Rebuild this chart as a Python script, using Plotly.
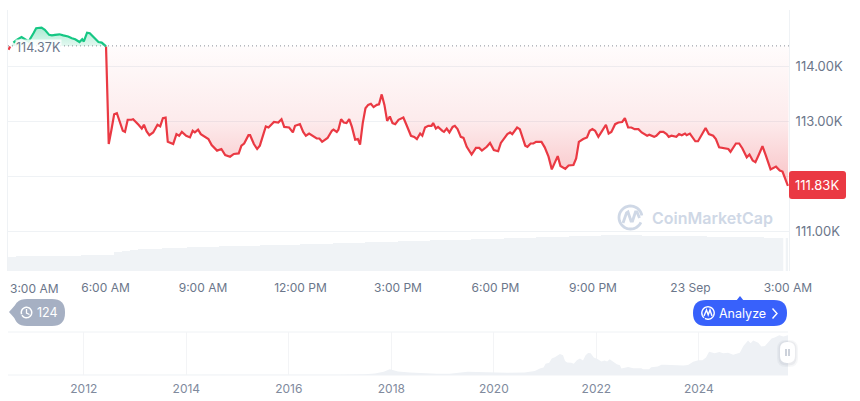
import math
import plotly.graph_objects as go

W, H = 860, 401
FONT = "Inter"
RED, GREEN = "#ea3943", "#16c784"
GRID = "#eff2f5"
TEXT = "#6b768a"

open_price = 114.37
last_price = 111.83

# minutes after 3:00 AM, price in thousands of USD
above_minutes = [1, 4, 10, 16, 25, 38, 47, 52, 62, 68, 76, 81, 87, 95, 102, 111, 118, 124, 132, 137, 140, 146, 151, 161, 167, 173, 181]
above_prices = [114.30, 114.36, 114.43, 114.48, 114.53, 114.45, 114.60, 114.69, 114.70, 114.66, 114.57, 114.56, 114.57, 114.58, 114.56, 114.54, 114.51, 114.49, 114.44, 114.49, 114.45, 114.61, 114.60, 114.49, 114.44, 114.43, 114.36]

below_minutes = [181, 183, 186, 191, 196, 201, 208, 212, 216, 221, 228, 231, 241, 247, 251, 256, 261, 268, 276, 281, 286, 291, 295, 305, 311, 316, 321, 329, 336, 341, 345, 351, 356, 370, 376, 386, 394, 401, 410, 417, 426, 431, 436, 444, 447, 454, 460, 465, 476, 481, 491, 499, 505, 510, 519, 526, 530, 539,
                 545, 550, 556, 564, 570, 575, 580, 590, 598, 601, 607, 610, 615, 620, 625, 630, 635, 641, 646, 650, 655, 660, 665, 670, 675, 681, 685, 690, 695, 700, 705, 710, 715, 721, 730, 736, 744, 750, 755, 761, 765, 770, 776, 782, 785, 790, 794, 802, 805, 810, 815, 821, 825, 830, 836, 841, 847, 856, 864, 870, 875, 884, 890, 897, 902, 905, 910, 922, 927, 931, 940, 945, 955, 959, 965, 970, 975, 985, 991, 998, 1004, 1015, 1020, 1029, 1035,
                 1044, 1049, 1054, 1062, 1069, 1074, 1079, 1084, 1090, 1097, 1104, 1109, 1114, 1121, 1127, 1134, 1139, 1145, 1151, 1157, 1164, 1170, 1176, 1180, 1184, 1193, 1197, 1204, 1210, 1216, 1220, 1225, 1234, 1239, 1244, 1250, 1253, 1259, 1269, 1274, 1288, 1294, 1302, 1307, 1313, 1321, 1330, 1334, 1344, 1350, 1356, 1364, 1369, 1375, 1380, 1386, 1393, 1399, 1408, 1418, 1425, 1430, 1440]
below_prices = [114.36, 113.39, 112.59, 112.85, 113.13, 113.15, 112.94, 112.83, 112.81, 113.03, 113.03, 113.04, 112.94, 112.87, 112.94, 112.82, 112.75, 112.80, 112.94, 112.91, 113.06, 113.07, 112.63, 112.59, 112.77, 112.74, 112.81, 112.74, 112.71, 112.83, 112.80, 112.85, 112.77, 112.68, 112.57, 112.47, 112.50, 112.39, 112.36, 112.41, 112.42, 112.56, 112.60, 112.75, 112.75, 112.59, 112.50, 112.56, 112.91, 112.89, 112.99, 112.98, 113.04, 112.90, 112.89, 112.80, 112.92, 112.95,
                112.81, 112.74, 112.78, 112.72, 112.69, 112.69, 112.63, 112.70, 112.83, 112.85, 112.81, 112.85, 113.04, 112.98, 112.97, 113.04, 112.90, 112.67, 112.68, 112.58, 112.97, 113.24, 113.30, 113.32, 113.26, 113.30, 113.31, 113.49, 113.30, 113.01, 113.09, 112.97, 112.95, 113.03, 113.07, 112.93, 112.74, 112.72, 112.68, 112.78, 112.74, 112.89, 112.92, 112.92, 112.97, 112.87, 112.90, 112.83, 112.81, 112.87, 112.80, 112.90, 112.92, 112.86, 112.72, 112.70, 112.54, 112.40, 112.52, 112.52, 112.47, 112.54, 112.61, 112.48, 112.46, 112.46, 112.61, 112.77, 112.80, 112.77, 112.89, 112.86, 112.56, 112.54, 112.60, 112.60, 112.63, 112.63, 112.53, 112.36, 112.13, 112.37, 112.19, 112.14, 112.20,
                112.21, 112.33, 112.63, 112.68, 112.71, 112.83, 112.86, 112.83, 112.72, 112.83, 112.94, 112.78, 112.81, 112.95, 112.98, 112.99, 113.06, 112.89, 112.89, 112.86, 112.86, 112.80, 112.77, 112.74, 112.76, 112.72, 112.74, 112.81, 112.81, 112.77, 112.72, 112.74, 112.72, 112.77, 112.75, 112.78, 112.75, 112.78, 112.64, 112.64, 112.88, 112.77, 112.74, 112.68, 112.53, 112.51, 112.50, 112.45, 112.60, 112.60, 112.51, 112.35, 112.40, 112.29, 112.26, 112.39, 112.55, 112.39, 112.13, 112.18, 112.11, 112.09, 111.83]

# one value per quarter hour, relative units
volume = [14.5, 15, 15, 15.5, 15.5, 15.5, 15.5, 15.5, 15.5, 16, 16, 16, 16.5, 19, 20.5, 21.5, 22, 22, 22.5, 23, 23.5, 23.5, 24, 24, 24.5, 24.5, 25, 25, 25, 25.5, 25.5, 26, 26, 26, 26.5, 26.5, 27, 27, 27.5, 27.5, 28, 28, 28.5, 28.5, 29, 29, 29.5, 29.5, 30, 30, 30.5, 30.5, 31, 31, 31, 31.5, 31.5, 32, 32, 32, 32.5, 33, 33, 33.5, 33.5, 34, 34, 34.5, 34.5, 35, 35, 35.5, 35.5, 36, 36, 36, 36, 36, 35.5, 35.5, 35.5, 35.5, 35, 35, 35, 35, 34.5, 34.5, 34.5, 34, 34, 34, 34, 33.5, 33.5, 33]

time_ticks = [180, 360, 540, 720, 900, 1080, 1260, 1440]
time_labels = ["6:00 AM", "9:00 AM", "12:00 PM", "3:00 PM", "6:00 PM", "9:00 PM", "23 Sep", "3:00 AM"]
price_ticks = [111, 112, 113, 114]
price_labels = ["111.00K", "", "113.00K", "114.00K"]

history_years = [2010.52, 2012.0, 2014.0, 2016.0, 2017.0, 2017.48, 2017.68, 2017.85, 2017.97, 2018.13, 2018.36, 2018.89, 2019.14, 2019.49, 2019.79, 2020.25, 2020.6,
                 2020.70, 2020.80, 2020.90, 2020.97, 2021.01, 2021.08, 2021.13, 2021.19, 2021.29, 2021.35, 2021.39, 2021.43, 2021.51, 2021.56, 2021.62, 2021.68, 2021.74, 2021.79, 2021.84, 2021.89, 2021.95, 2022.03, 2022.10, 2022.16, 2022.21, 2022.26, 2022.33, 2022.40, 2022.46, 2022.49, 2022.62, 2022.72, 2022.88, 2022.91, 2023.03, 2023.07, 2023.20, 2023.27, 2023.33,
                 2023.50, 2023.70, 2023.79, 2023.89, 2023.99, 2024.07, 2024.14, 2024.20, 2024.31, 2024.40, 2024.48, 2024.57, 2024.67, 2024.80, 2024.87, 2024.96, 2025.01, 2025.06, 2025.16, 2025.22, 2025.29, 2025.35, 2025.42, 2025.48, 2025.57, 2025.65, 2025.74]
history_prices = [0, 0.01, 0.8, 0.43, 1.0, 2.6, 4.5, 10, 17.7, 11, 8, 4, 3.5, 10, 8, 7, 8,
                  9, 12, 20, 23, 35, 38, 51, 55, 65, 61, 43, 39, 38, 35, 46, 51, 45, 61, 68, 67, 54, 49, 42, 45, 42, 49, 41, 33, 30, 20, 25, 21, 21, 18, 18, 24, 26, 32, 32,
                  31, 29, 31, 41, 46, 46, 54, 72, 67, 71, 67, 69, 63, 69, 90, 107, 98, 107, 100, 88, 90, 102, 113, 116, 123, 119, 123]
year_ticks = [2012, 2014, 2016, 2018, 2020, 2022, 2024]


def fx(x):
    return x / W


def fy(y):
    return 1 - y / H


def pt(x, y):
    return f"{fx(x):.5f},{fy(y):.5f}"


def poly(points, close=False):
    s = "M" + " L".join(pt(x, y) for x, y in points)
    return s + (" Z" if close else "")


def rrect(x0, y0, x1, y1, r):
    return (f"M{pt(x0 + r, y0)} L{pt(x1 - r, y0)} Q{pt(x1, y0)} {pt(x1, y0 + r)} "
            f"L{pt(x1, y1 - r)} Q{pt(x1, y1)} {pt(x1 - r, y1)} L{pt(x0 + r, y1)} "
            f"Q{pt(x0, y1)} {pt(x0, y1 - r)} L{pt(x0, y0 + r)} Q{pt(x0, y0)} {pt(x0 + r, y0)} Z")


def arc(cx, cy, r, a0, a1, n=40):
    return [(cx + r * math.cos(math.radians(a0 + (a1 - a0) * i / n)),
             cy + r * math.sin(math.radians(a0 + (a1 - a0) * i / n))) for i in range(n + 1)]


def shape(path, fill=None, line=None, lw=0, opacity=1, layer="above"):
    return dict(type="path", xref="paper", yref="paper", path=path, fillcolor=fill or "rgba(0,0,0,0)",
                line=dict(color=line or "rgba(0,0,0,0)", width=lw), opacity=opacity, layer=layer)


def label(x, y, text, size=12, color=TEXT, anchor="center", **kw):
    font = dict(family=FONT, size=size, color=color)
    if "weight" in kw:
        font["weight"] = kw.pop("weight")
    return dict(xref="paper", yref="paper", x=fx(x), y=fy(y), text=text, showarrow=False, xanchor=anchor,
                yanchor="middle", font=font, borderpad=0, **kw)


fig = go.Figure()

# baseline + red area
fig.add_trace(go.Scatter(x=[181, 1442], y=[open_price, open_price], mode="lines", line=dict(width=0), hoverinfo="skip", showlegend=False))
fig.add_trace(go.Scatter(x=below_minutes, y=below_prices, mode="lines", line=dict(color=RED, width=2.2), fill="tonexty",
                         fillgradient=dict(type="vertical", start=open_price, stop=112.1,
                                           colorscale=[[0, "rgba(234,57,67,0.015)"], [0.6, "rgba(234,57,67,0.10)"], [1, "rgba(234,57,67,0.26)"]]),
                         showlegend=False))
# baseline + green area
fig.add_trace(go.Scatter(x=[5, 181], y=[open_price, open_price], mode="lines", line=dict(width=0), hoverinfo="skip", showlegend=False))
fig.add_trace(go.Scatter(x=above_minutes[2:], y=above_prices[2:], mode="lines", line=dict(color=GREEN, width=2.2), fill="tonexty",
                         fillgradient=dict(type="vertical", start=114.7, stop=open_price,
                                           colorscale=[[0, "rgba(22,199,132,0.36)"], [1, "rgba(22,199,132,0.12)"]]),
                         showlegend=False))
fig.add_trace(go.Scatter(x=above_minutes[:2], y=above_prices[:2], mode="lines", line=dict(color=RED, width=2.2), showlegend=False))
# dotted opening price
fig.add_trace(go.Scatter(x=[0, 1442], y=[open_price, open_price], mode="lines",
                         line=dict(color="#8a8f99", width=1, dash="1px,3px"), showlegend=False))
# volume
fig.add_trace(go.Bar(x=[i * 15 + 7.5 for i in range(len(volume))], y=volume, yaxis="y2", marker=dict(color="#f0f3f6", line=dict(width=0)),
                     width=15, showlegend=False))
# overview
fig.add_trace(go.Scatter(x=history_years, y=history_prices, xaxis="x3", yaxis="y3", mode="lines", line=dict(width=0),
                         fill="tozeroy", fillcolor="#eef1f5", showlegend=False))

fig.update_layout(
    width=W, height=H, autosize=False, margin=dict(l=0, r=0, t=0, b=0, autoexpand=False),
    paper_bgcolor="white", plot_bgcolor="rgba(0,0,0,0)", showlegend=False,
    font=dict(family=FONT, size=12, color=TEXT),
    xaxis=dict(domain=[fx(8), fx(789)], range=[0, 1442], tickvals=time_ticks, ticktext=time_labels, automargin=False,
               showgrid=False, zeroline=False, showline=False, ticks="outside", ticklen=6, tickcolor="rgba(0,0,0,0)",
               tickfont=dict(family=FONT, size=12, color=TEXT), anchor="y"),
    yaxis=dict(domain=[fy(271), fy(10)], range=[110.287, 115.021], side="right", anchor="x", automargin=False,
               tickvals=price_ticks, ticktext=price_labels, showgrid=True, gridcolor=GRID, gridwidth=1,
               zeroline=False, showline=True, linecolor=GRID, mirror=True,
               ticks="outside", ticklen=3, tickcolor="rgba(0,0,0,0)",
               tickfont=dict(family=FONT, size=13, color=TEXT)),
    yaxis2=dict(domain=[fy(271), fy(10)], range=[0, 261], overlaying="y", visible=False, automargin=False),
    xaxis3=dict(domain=[fx(8), fx(788)], range=[2010.52, 2025.74], anchor="y3", tickvals=year_ticks, automargin=False,
                ticktext=[str(y) for y in year_ticks], showgrid=True, gridcolor="#f3f4f6", zeroline=False, showline=False,
                ticks="outside", ticklen=3, tickcolor="rgba(0,0,0,0)", tickfont=dict(family=FONT, size=12, color="#808a9d")),
    yaxis3=dict(domain=[fy(375), fy(332)], range=[0, 133], anchor="x3", showticklabels=False, showgrid=False, zeroline=False,
                showline=False, automargin=False),
    bargap=0,
)

ring = arc(630.5, 217.5, 11.5, 25, 350)
shapes = [
    # overview frame
    dict(type="line", xref="paper", yref="paper", x0=fx(8), x1=fx(788), y0=fy(332), y1=fy(332), line=dict(color=GRID, width=1), layer="below"),
    dict(type="line", xref="paper", yref="paper", x0=fx(8), x1=fx(788), y0=fy(375), y1=fy(375), line=dict(color=GRID, width=1), layer="below"),
    # gap in the volume bars
    dict(type="line", xref="paper", yref="paper", x0=fx(784.5), x1=fx(784.5), y0=fy(271), y1=fy(236), line=dict(color="white", width=2.5)),
    # price tag
    shape(rrect(789, 171, 846, 199, 3), fill=RED),
    # history pill
    shape(poly([(9, 312), (17, 303), (17, 321)], True), fill="#a6b0c3"),
    shape(rrect(14, 299, 65, 326, 13), fill="#a6b0c3"),
    shape(poly(arc(26.5, 312.5, 5.2, -200, 150)), line="white", lw=1.5),
    shape(poly([(26.5, 309), (26.5, 313), (29.5, 314.5)]), line="white", lw=1.3),
    # analyze pill
    shape(poly([(736, 301), (740, 296), (744, 301)], True), fill="#3861fb"),
    shape(rrect(693, 300, 787, 326, 13), fill="#3861fb"),
    shape(poly(arc(708, 313, 6.2, 130, 480)), line="white", lw=1.4),
    shape(poly([(704, 316), (706.5, 310), (708.2, 315), (710, 310), (712, 316)]), line="white", lw=1.4),
    shape(poly([(772.5, 308.5), (777, 313.5), (772.5, 318.5)]), line="white", lw=1.4),
    # overview handle
    shape(rrect(777, 340, 798, 367, 9), fill="rgba(80,90,110,0.05)"),
    shape(rrect(778.5, 341, 796.5, 365.5, 8), fill="rgba(80,90,110,0.07)"),
    shape(rrect(780, 342, 795, 363, 7), fill="white"),
    dict(type="line", xref="paper", yref="paper", x0=fx(786), x1=fx(786), y0=fy(349), y1=fy(356), line=dict(color="#b8bfcc", width=1.4)),
    dict(type="line", xref="paper", yref="paper", x0=fx(789), x1=fx(789), y0=fy(349), y1=fy(356), line=dict(color="#b8bfcc", width=1.4)),
    # watermark
    shape(poly(ring), line="#cfd8e6", lw=2.8),
    shape(poly([(623, 223), (626.5, 213), (628, 212), (631, 221), (632.5, 221), (635.5, 212), (637, 212), (639.5, 218)]), line="#cfd8e6", lw=2.8),
]

annotations = [
    label(15, 48, "114.37K", anchor="left", bgcolor="rgba(255,255,255,0.82)", size=12.5),
    label(9, 288, "3:00 AM", anchor="left"),
    label(816.5, 185, "111.83K", color="white", size=13),
    label(47.5, 312.5, "124", color="white", size=12.5),
    label(742.5, 313.5, "Analyze", color="white", size=12.5),
    label(712, 218, "CoinMarketCap", color="#cfd8e6", size=16, weight=600),
]
fig.update_layout(shapes=shapes, annotations=annotations)

fig.write_html("out.html", default_width="860px", default_height="401px",
               config={"displayModeBar": False, "responsive": False},
               post_script="document.body.style.margin='0';document.body.style.overflow='hidden';")
